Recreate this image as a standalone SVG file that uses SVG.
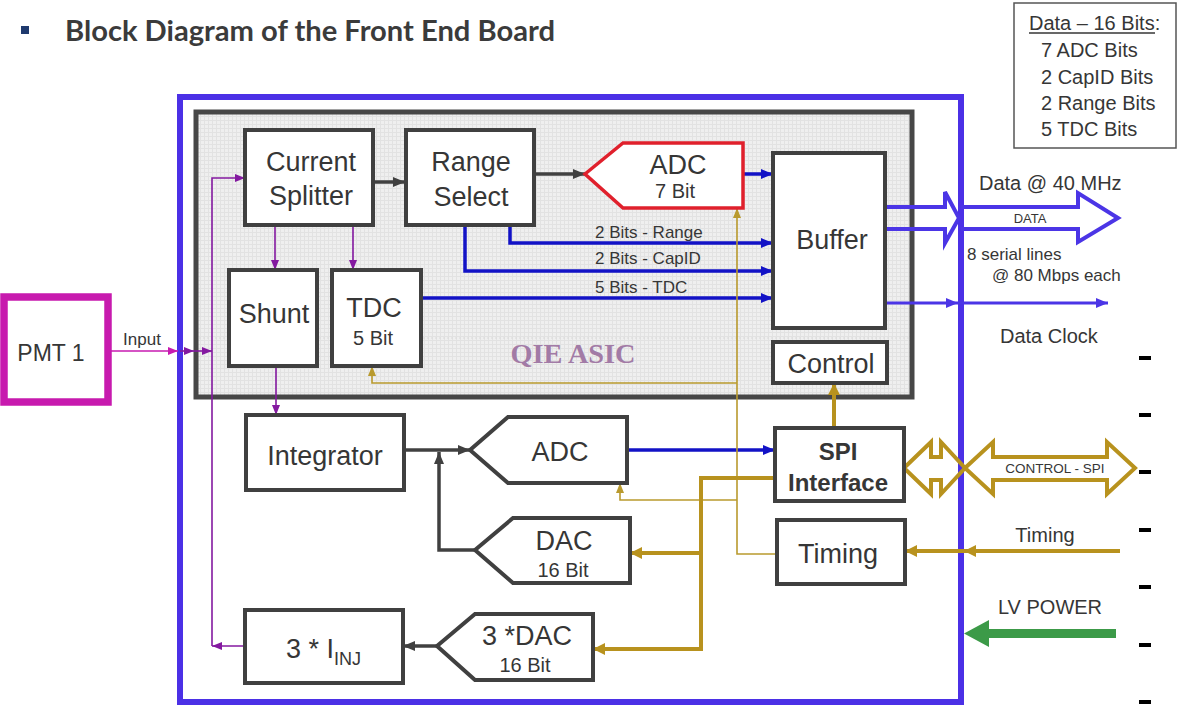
<svg xmlns="http://www.w3.org/2000/svg" width="1178" height="706" viewBox="0 0 1178 706">
<defs>
<style>
.box{fill:#fff;stroke:#404040;stroke-width:4}
.t{font-family:"Liberation Sans",Arial,sans-serif;fill:#363636;text-anchor:middle}
.s{text-anchor:start}
.f27{font-size:27px}
.f20{font-size:20px}
.f17{font-size:17px}
.dk{fill:none;stroke:#404040;stroke-width:3.5}
.bl{fill:none;stroke:#1212c6;stroke-width:3.5}
.pu{fill:none;stroke:#8419a0;stroke-width:1.6}
.gt{fill:none;stroke:#b99a2e;stroke-width:1.6}
.gk{fill:none;stroke:#b8921e;stroke-width:4}
.vb{fill:none;stroke:#4b35e6}
</style>
<pattern id="grid" width="4" height="4" patternUnits="userSpaceOnUse">
<rect width="4" height="4" fill="#efefef"/>
<path d="M0,0.5H4M0.5,0V4" stroke="#e2e2e2" stroke-width="1"/>
</pattern>
<marker id="a-dk" markerUnits="userSpaceOnUse" markerWidth="14" markerHeight="12" refX="12" refY="6" orient="auto"><path d="M0,1L12,6L0,11z" fill="#404040"/></marker>
<marker id="a-bl" markerUnits="userSpaceOnUse" markerWidth="14" markerHeight="12" refX="12" refY="6" orient="auto"><path d="M0,1L12,6L0,11z" fill="#1212c6"/></marker>
<marker id="a-vb" markerUnits="userSpaceOnUse" markerWidth="14" markerHeight="12" refX="12" refY="6" orient="auto"><path d="M0,1L12,6L0,11z" fill="#4b35e6"/></marker>
<marker id="a-pu" markerUnits="userSpaceOnUse" markerWidth="12" markerHeight="10" refX="10" refY="5" orient="auto"><path d="M0,1L10,5L0,9z" fill="#8419a0"/></marker>
<marker id="a-mg" markerUnits="userSpaceOnUse" markerWidth="12" markerHeight="10" refX="10" refY="5" orient="auto"><path d="M0,1L10,5L0,9z" fill="#c71ab0"/></marker>
<marker id="a-gt" markerUnits="userSpaceOnUse" markerWidth="12" markerHeight="10" refX="10" refY="5" orient="auto"><path d="M0,1L10,5L0,9z" fill="#b99a2e"/></marker>
<marker id="a-gk" markerUnits="userSpaceOnUse" markerWidth="14" markerHeight="14" refX="12" refY="7" orient="auto"><path d="M0,1L12,7L0,13z" fill="#b8921e"/></marker>
</defs>
<rect width="1178" height="706" fill="#fff"/>

<g id="title">
<rect x="21" y="26" width="8" height="8" fill="#1f3a6e"/>
<text x="65" y="41" font-family="Lato,'Open Sans',sans-serif" font-weight="700" font-size="28" fill="#3b3b3b" textLength="490" lengthAdjust="spacingAndGlyphs">Block Diagram of the Front End Board</text>
</g>

<g id="legend">
<rect x="1014" y="3" width="162" height="145" fill="#fff" stroke="#555" stroke-width="1.5"/>
<text class="t s f20" x="1029" y="30">Data – 16 Bits:</text>
<line x1="1029" y1="33" x2="1155" y2="33" stroke="#363636" stroke-width="1.4"/>
<text class="t s f20" x="1041" y="57">7 ADC Bits</text>
<text class="t s f20" x="1041" y="84">2 CapID Bits</text>
<text class="t s f20" x="1041" y="110">2 Range Bits</text>
<text class="t s f20" x="1041" y="136">5 TDC Bits</text>
</g>

<g id="board">
<rect x="180" y="97" width="781" height="605" fill="none" stroke="#4b30e6" stroke-width="6"/>
</g>

<g id="qie-asic">
<rect x="196" y="112" width="716" height="285" fill="url(#grid)" stroke="#474747" stroke-width="5"/>
<line x1="199" y1="338" x2="909" y2="338" stroke="#dadada" stroke-width="1" stroke-dasharray="2 2"/>
<text x="573" y="363" font-family="'Liberation Serif',serif" font-weight="700" font-size="28" fill="#a27ba6" text-anchor="middle" textLength="125" lengthAdjust="spacingAndGlyphs">QIE ASIC</text>
</g>

<g id="connectors">
<!-- dark -->
<path class="dk" d="M373,182H405" marker-end="url(#a-dk)"/>
<path class="dk" d="M534,174H585" marker-end="url(#a-dk)"/>
<path class="dk" d="M404,450H470" marker-end="url(#a-dk)"/>
<path class="dk" d="M475,550H439V452" stroke-width="4" marker-end="url(#a-dk)"/>
<path class="dk" d="M437,646H403" marker-end="url(#a-dk)"/>
<!-- blue -->
<path class="bl" d="M743,174H773" marker-end="url(#a-bl)"/>
<path class="bl" d="M510,225V243H773" marker-end="url(#a-bl)"/>
<path class="bl" d="M465,225V271H773" marker-end="url(#a-bl)"/>
<path class="bl" d="M421,298H773" marker-end="url(#a-bl)"/>
<path class="bl" d="M627,450H775" marker-end="url(#a-bl)"/>
<!-- purple / magenta -->
<path d="M108,351H178" fill="none" stroke="#c71ab0" stroke-width="1.6" marker-end="url(#a-mg)"/>
<path class="pu" d="M180,351H194" marker-end="url(#a-pu)"/>
<path class="pu" d="M194,351H212" marker-end="url(#a-pu)"/>
<path class="pu" d="M212,646V178H245" marker-end="url(#a-pu)"/>
<path class="pu" d="M245,646H212" marker-end="url(#a-pu)"/>
<path class="pu" d="M275,225V270" marker-end="url(#a-pu)"/>
<path class="pu" d="M353,225V270" marker-end="url(#a-pu)"/>
<path class="pu" d="M276,366V415" marker-end="url(#a-pu)"/>
<!-- gold thin -->
<path class="gt" d="M777,554H737V208" marker-end="url(#a-gt)"/>
<path class="gt" d="M737,383H372V366" marker-end="url(#a-gt)"/>
<path class="gt" d="M737,500H620V483" marker-end="url(#a-gt)"/>
<!-- gold thick -->
<path class="gk" d="M775,478H701V649H593" marker-end="url(#a-gk)"/>
<path class="gk" d="M701,553H630" marker-end="url(#a-gk)"/>
<path class="gk" d="M834,428V383" marker-end="url(#a-gk)"/>
<path class="gk" d="M1120,551H964" marker-end="url(#a-gk)"/>
<path class="gk" d="M964,551H905" marker-end="url(#a-gk)"/>
<!-- data outputs -->
<path class="vb" stroke-width="4" d="M886,207H945V192L959,218L945,243V229H886"/>
<path class="vb" stroke-width="4" d="M961,207H1078V193L1118,218L1078,242V229H961"/>
<path class="vb" stroke-width="3" d="M886,303H958" marker-end="url(#a-vb)"/>
<path class="vb" stroke-width="3" d="M958,303H1108" marker-end="url(#a-vb)"/>
<!-- control - spi -->
<polygon points="904,468 931,442 931,457 941,457 941,442 965,468 941,494 941,480 931,480 931,494" fill="none" stroke="#b8921e" stroke-width="4"/>
<polygon points="965,468 993,442 993,457 1107,457 1107,442 1135,468 1107,494 1107,480 993,480 993,494" fill="none" stroke="#b8921e" stroke-width="4"/>
<!-- LV power -->
<polygon points="1116,629 989,629 989,620 964,633.5 989,647 989,638 1116,638" fill="#3c9a48"/>
</g>

<g id="labels">
<text class="t f17" x="142" y="345">Input</text>
<text class="t s f17" x="595" y="238">2 Bits - Range</text>
<text class="t s f17" x="595" y="264">2 Bits - CapID</text>
<text class="t s f17" x="595" y="293">5 Bits - TDC</text>
<text class="t s f20" x="979" y="190">Data @ 40 MHz</text>
<text class="t" x="1030" y="223" font-size="13">DATA</text>
<text class="t s f17" x="967" y="260">8 serial lines</text>
<text class="t s f17" x="992" y="281">@ 80 Mbps each</text>
<text class="t s f20" x="1000" y="343">Data Clock</text>
<text class="t" x="1055" y="473" font-size="13.5">CONTROL - SPI</text>
<text class="t f20" x="1045" y="542">Timing</text>
<text class="t f20" x="1050" y="614">LV POWER</text>
</g>

<g id="dashes" fill="#000">
<rect x="1139" y="356" width="12" height="4"/>
<rect x="1139" y="413" width="12" height="4"/>
<rect x="1139" y="470" width="12" height="4"/>
<rect x="1139" y="528" width="12" height="4"/>
<rect x="1139" y="585" width="12" height="4"/>
<rect x="1139" y="643" width="12" height="4"/>
<rect x="1139" y="700" width="12" height="4"/>
</g>

<g id="pmt1">
<rect x="4" y="297" width="104" height="105" fill="#fff" stroke="#c71aae" stroke-width="7.5"/>
<text class="t" x="51" y="361" font-size="23">PMT 1</text>
</g>
<g id="current-splitter">
<rect class="box" x="245" y="130" width="128" height="95"/>
<text class="t f27" x="311" y="171">Current</text>
<text class="t f27" x="311" y="205">Splitter</text>
</g>
<g id="range-select">
<rect class="box" x="406" y="130" width="128" height="95"/>
<text class="t f27" x="471" y="171">Range</text>
<text class="t f27" x="471" y="206">Select</text>
</g>
<g id="adc-7bit">
<polygon points="585,174 623,143 743,143 743,208 623,208" fill="#fff" stroke="#e0202c" stroke-width="3.5"/>
<text class="t f27" x="678" y="174">ADC</text>
<text class="t f20" x="675" y="198">7 Bit</text>
</g>
<g id="buffer">
<rect class="box" x="773" y="153" width="112" height="175"/>
<text class="t f27" x="832" y="249">Buffer</text>
</g>
<g id="shunt">
<rect class="box" x="229" y="270" width="88" height="96"/>
<text class="t f27" x="274" y="323">Shunt</text>
</g>
<g id="tdc">
<rect class="box" x="332" y="270" width="89" height="96"/>
<text class="t f27" x="374" y="317">TDC</text>
<text class="t f20" x="373" y="345">5 Bit</text>
</g>
<g id="control">
<rect class="box" x="773" y="342" width="114" height="41"/>
<text class="t f27" x="831" y="373">Control</text>
</g>
<g id="integrator">
<rect class="box" x="246" y="415" width="158" height="75"/>
<text class="t f27" x="325" y="465">Integrator</text>
</g>
<g id="adc">
<polygon class="box" points="470,450 508,417 627,417 627,483 508,483"/>
<text class="t f27" x="560" y="461">ADC</text>
</g>
<g id="dac">
<polygon class="box" points="475,550 513,518 630,518 630,583 513,583"/>
<text class="t f27" x="564" y="550">DAC</text>
<text class="t f20" x="563" y="577">16 Bit</text>
</g>
<g id="dac3">
<polygon class="box" points="437,646 475,614 593,614 593,680 475,680"/>
<text class="t f27" x="527" y="645">3 *DAC</text>
<text class="t f20" x="525" y="672">16 Bit</text>
</g>
<g id="iinj">
<rect class="box" x="245" y="610" width="158" height="73"/>
<text class="t s f27" x="286" y="658">3 * I<tspan font-size="18" dy="7">INJ</tspan></text>
</g>
<g id="spi-interface">
<rect class="box" x="775" y="428" width="129" height="73"/>
<text class="t" x="838" y="460" font-size="24" font-weight="700">SPI</text>
<text class="t" x="838" y="491" font-size="24" font-weight="700">Interface</text>
</g>
<g id="timing">
<rect class="box" x="777" y="520" width="128" height="64"/>
<text class="t f27" x="838" y="563">Timing</text>
</g>
</svg>
